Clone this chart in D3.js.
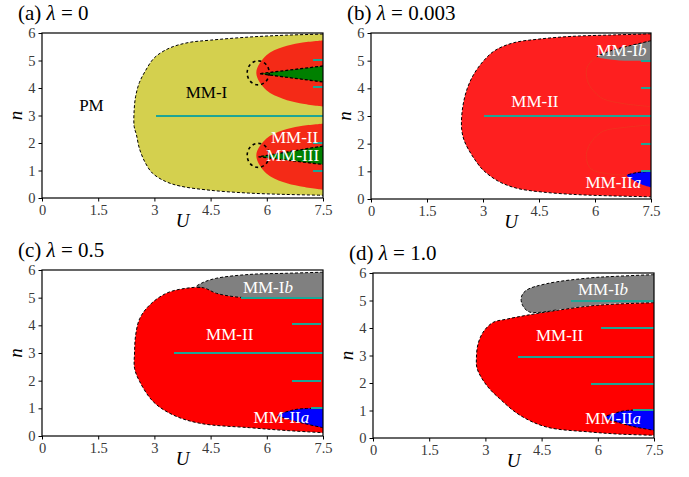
<!DOCTYPE html>
<html><head><meta charset="utf-8">
<script src="https://cdn.jsdelivr.net/npm/d3@7"></script>
<style>
body{margin:0;background:#fff;}
svg{display:block;}
svg text{font-family:"Liberation Serif","DejaVu Serif","Times New Roman",serif;}
</style></head>
<body><svg id="c" width="689" height="477"></svg>
<script>
// ---------- data ----------
const uTicks = [0, 1.5, 3, 4.5, 6, 7.5];
const nTicks = [0, 1, 2, 3, 4, 5, 6];
const panelLetters = ["(a)", "(b)", "(c)", "(d)"];
const lambdas = ["0", "0.003", "0.5", "1.0"];

// (a) lambda = 0
const aMMI = [[7.5,5.96],[6.5,5.92],[5.5,5.85],[4.5,5.74],[3.9,5.65],[3.4,5.45],[3.0,5.1],[2.75,4.6],[2.6,4.2],[2.5,3.7],[2.46,3.2],[2.46,2.6],[2.52,2.3],[2.6,1.8],[2.75,1.3],[2.95,0.9],[3.3,0.6],[3.7,0.43],[4.5,0.28],[5.5,0.18],[6.5,0.13],[7.5,0.1]];
const aRedUpper = [[7.5,5.73],[6.88,5.64],[6.43,5.49],[5.99,5.19],[5.72,4.55],[5.99,3.92],[6.43,3.61],[6.88,3.45],[7.5,3.33]];
const aRedLower = [[7.5,2.7],[6.88,2.61],[6.43,2.46],[5.99,2.16],[5.72,1.55],[5.99,0.89],[6.43,0.58],[6.88,0.43],[7.5,0.3]];
const aGreenUpper = [[7.5,4.8],[5.8,4.52],[7.5,4.22]];
const aGreenLower = [[7.5,1.89],[5.78,1.5],[7.5,1.22]];
const aCircles = [[5.77,4.55],[5.77,1.55]];
const aTeal = [[3.03,7.5,2.97],[7.23,7.5,5.02],[7.23,7.5,4.02],[7.23,7.5,2.0],[7.23,7.5,1.0]];
const aLabels = [["PM",1.32,3.37,"#000"],["MM-I",4.39,3.85,"#000"],["MM-II",6.74,2.22,"#fff"],["MM-III",6.69,1.55,"#fff"]];

// (b) lambda = 0.003
const bMMII = [[7.5,5.97],[6.5,5.93],[5.4,5.88],[4.5,5.78],[3.8,5.64],[3.3,5.35],[3.0,4.97],[2.75,4.5],[2.58,4.0],[2.48,3.5],[2.43,3.0],[2.43,2.5],[2.5,2.1],[2.65,1.7],[2.82,1.35],[3.0,1.05],[3.4,0.65],[3.9,0.39],[4.6,0.25],[5.5,0.16],[6.5,0.11],[7.5,0.08]];
const bGray = [[7.5,5.72],[6.9,5.53],[6.4,5.35],[6.05,5.15],[6.3,5.06],[6.8,5.0],[7.5,5.0]];
const bBlue = [[7.5,1.0],[7.1,0.95],[6.85,0.86],[6.95,0.75],[7.2,0.55],[7.5,0.42]];
const bContourUpper = [[6.06,5.16],[5.88,4.95],[5.77,4.67],[5.82,4.19],[6.0,3.85],[6.22,3.62],[6.75,3.45],[7.5,3.34]];
const bContourLower = [[7.5,2.68],[6.75,2.58],[6.22,2.45],[5.92,2.1],[5.78,1.7],[5.78,1.38],[5.9,1.08],[6.3,0.92],[6.85,0.86]];
const bTeal = [[3.04,7.5,3.0],[7.24,7.5,5.0],[7.24,7.5,4.01],[7.24,7.5,1.99],[7.24,7.5,1.0]];
const bLabels = [["MM-II",4.39,3.53,"#fff"],["MM-I|b",6.71,5.4,"#fff"],["MM-II|a",6.49,0.63,"#fff"]];

// (c) lambda = 0.5
const cMMII = [[7.5,4.97],[6.5,4.98],[5.6,4.99],[5.1,5.04],[4.65,5.16],[4.3,5.36],[3.85,5.34],[3.32,5.16],[2.87,4.73],[2.61,4.25],[2.5,3.65],[2.47,3.0],[2.47,2.45],[2.61,1.96],[2.97,1.24],[3.5,0.76],[4.21,0.46],[5.54,0.3],[6.5,0.2],[7.5,0.12]];
const cGray = [[7.5,5.92],[6.5,5.88],[5.54,5.84],[4.65,5.7],[4.3,5.55],[4.12,5.4],[4.3,5.36],[4.65,5.16],[5.1,5.04],[5.6,4.99],[6.5,4.98],[7.5,4.97]];
const cBlue = [[7.5,1.0],[7.0,0.99],[6.7,0.94],[6.3,0.74],[6.6,0.6],[7.0,0.45],[7.5,0.3]];
const cTeal = [[3.52,7.5,3.01],[5.32,7.5,4.98],[6.66,7.45,4.05],[6.68,7.45,2.0],[7.19,7.5,1.02]];
const cLabels = [["MM-I|b",6.03,5.4,"#fff"],["MM-II",5.01,3.68,"#fff"],["MM-II|a",6.39,0.7,"#fff"]];

// (d) lambda = 1.0
const dMMII = [[7.5,4.92],[6.5,4.87],[5.78,4.8],[4.9,4.64],[4.09,4.46],[3.56,4.32],[3.2,4.2],[2.94,3.85],[2.8,3.4],[2.76,2.89],[2.78,2.52],[3.03,1.92],[3.38,1.43],[3.92,0.83],[4.63,0.4],[5.78,0.22],[6.6,0.14],[7.5,0.1]];
const dGray = [[7.5,5.94],[6.5,5.88],[5.78,5.82],[4.63,5.61],[4.09,5.37],[3.96,5.13],[3.99,4.83],[4.18,4.58],[4.9,4.66],[5.78,4.82],[6.5,4.89],[7.5,4.93]];
const dBlue = [[7.5,1.0],[6.76,1.0],[6.5,0.92],[6.2,0.75],[6.67,0.52],[7.0,0.4],[7.5,0.28]];
const dTeal = [[3.87,7.5,2.93],[5.28,7.5,4.97],[6.08,7.5,4.0],[5.81,7.5,1.96],[6.94,7.5,1.02]];
const dLabels = [["MM-I|b",6.14,5.43,"#fff"],["MM-II",4.98,3.76,"#fff"],["MM-II|a",6.41,0.73,"#fff"]];

// ---------- layout / styles ----------
const frames = [
  {x:42, y:33, w:281, h:165},
  {x:371, y:33, w:280, h:166},
  {x:42, y:270, w:281, h:166},
  {x:373, y:273, w:281, h:165}
];
const YEL = "#d4d04e", REDA = "#f42a17", REDB = "#fe1f1f", RED = "#ff0000",
      GREEN = "#008000", GRAY = "#808080", BLUE = "#0000ff", TEAL = "#1ea595";
const SERIF = "'Liberation Serif','DejaVu Serif','Times New Roman',serif";

const svg = d3.select("#c");

function makePanel(i) {
  const f = frames[i];
  const g = svg.append("g").attr("transform", `translate(${f.x},${f.y})`);
  const x = d3.scaleLinear().domain([0, 7.5]).range([0, f.w]);
  const y = d3.scaleLinear().domain([0, 6]).range([f.h, 0]);
  const cid = "clip" + i;
  g.append("clipPath").attr("id", cid).append("rect").attr("width", f.w).attr("height", f.h);
  const body = g.append("g").attr("clip-path", `url(#${cid})`);
  const smooth = d3.line().x(d => x(d[0])).y(d => y(d[1])).curve(d3.curveCatmullRom.alpha(0.5));
  const lin = d3.line().x(d => x(d[0])).y(d => y(d[1]));
  return {g, body, x, y, f, smooth, lin};
}

function fillArea(p, pts, color, straight) {
  const gen = straight ? p.lin : p.smooth;
  p.body.append("path").attr("d", gen(pts) + "Z").attr("fill", color).attr("stroke", "none");
}
function dashed(p, pts, straight, w) {
  const gen = straight ? p.lin : p.smooth;
  p.body.append("path").attr("d", gen(pts)).attr("fill", "none")
    .attr("stroke", "#000").attr("stroke-width", w || 1).attr("stroke-dasharray", "3,2");
}
function tealLines(p, segs) {
  p.body.selectAll(null).data(segs).enter().append("line")
    .attr("x1", d => p.x(d[0])).attr("x2", d => p.x(d[1]))
    .attr("y1", d => Math.round(p.y(d[2]))).attr("y2", d => Math.round(p.y(d[2])))
    .attr("stroke", TEAL).attr("stroke-width", 2).attr("shape-rendering", "crispEdges");
}
function labels(p, arr) {
  arr.forEach(d => {
    const t = p.g.append("text").attr("x", p.x(d[1])).attr("y", p.y(d[2])).attr("dy", "0.35em")
      .attr("text-anchor", "middle").attr("font-size", 17).attr("fill", d[3])
      .style("font-family", SERIF);
    const parts = d[0].split("|");
    t.append("tspan").text(parts[0]);
    if (parts[1]) t.append("tspan").attr("font-style", "italic").text(parts[1]);
  });
}
function axes(p, i) {
  const xa = d3.axisBottom(p.x).tickValues(uTicks).tickSize(3.5).tickPadding(3).tickFormat(d => String(d));
  const ya = d3.axisLeft(p.y).tickValues(nTicks).tickSize(3.5).tickPadding(3).tickFormat(d => String(d));
  const gx = p.g.append("g").attr("transform", `translate(0,${p.f.h})`).call(xa);
  const gy = p.g.append("g").call(ya);
  [gx, gy].forEach(a => {
    a.attr("font-family", null);
    a.select(".domain").remove();
    a.selectAll("text").style("font-family", SERIF).attr("font-size", 14.5).attr("fill", "#3a3a3a");
    a.selectAll("line").attr("stroke", "#000");
  });
  p.g.append("rect").attr("width", p.f.w).attr("height", p.f.h)
    .attr("fill", "none").attr("stroke", "#000").attr("stroke-width", 1.2);
  p.g.append("text").attr("x", p.f.w / 2).attr("y", p.f.h + 29).attr("text-anchor", "middle")
    .style("font-family", SERIF).attr("font-size", 19).attr("font-style", "italic").text("U");
  p.g.append("text").attr("transform", `translate(-20,${p.f.h / 2}) rotate(-90)`)
    .style("font-family", SERIF).attr("text-anchor", "middle").attr("font-size", 19).attr("font-style", "italic").text("n");
  const t = p.g.append("text").attr("x", -24).attr("y", -13).attr("font-size", 21).style("font-family", SERIF);
  t.append("tspan").text(panelLetters[i] + " ");
  t.append("tspan").attr("font-style", "italic").text("λ");
  t.append("tspan").text(" = " + lambdas[i]);
}

// ---- panel (a)
{
  const p = makePanel(0);
  fillArea(p, aMMI, YEL);
  fillArea(p, aRedUpper, REDA);
  fillArea(p, aRedLower, REDA);
  fillArea(p, aGreenUpper, GREEN, true);
  fillArea(p, aGreenLower, GREEN, true);
  dashed(p, aMMI);
  dashed(p, aGreenUpper, true, 1.3);
  dashed(p, aGreenLower, true, 1.3);
  p.body.selectAll(null).data(aCircles).enter().append("ellipse")
    .attr("cx", d => p.x(d[0])).attr("cy", d => p.y(d[1])).attr("rx", 11).attr("ry", 12)
    .attr("fill", "none").attr("stroke", "#000").attr("stroke-width", 1.6).attr("stroke-dasharray", "3,3");
  tealLines(p, aTeal);
  labels(p, aLabels);
  axes(p, 0);
}
// ---- panel (b)
{
  const p = makePanel(1);
  fillArea(p, bMMII, REDB);
  fillArea(p, bGray, GRAY);
  fillArea(p, bBlue, BLUE);
  [bContourUpper, bContourLower].forEach(c => p.body.append("path").attr("d", p.smooth(c))
    .attr("fill", "none").attr("stroke", "#f2301e").attr("stroke-width", 1));
  dashed(p, bMMII);
  dashed(p, bGray.slice(0, 4));
  dashed(p, bBlue.slice(0, 3));
  tealLines(p, bTeal);
  labels(p, bLabels);
  axes(p, 1);
}
// ---- panel (c)
{
  const p = makePanel(2);
  fillArea(p, cGray, GRAY);
  fillArea(p, cMMII, RED);
  fillArea(p, cBlue, BLUE);
  dashed(p, cGray.slice(0, 7));
  dashed(p, cMMII);
  dashed(p, cBlue);
  tealLines(p, cTeal);
  labels(p, cLabels);
  axes(p, 2);
}
// ---- panel (d)
{
  const p = makePanel(3);
  fillArea(p, dGray, GRAY);
  fillArea(p, dMMII, RED);
  fillArea(p, dBlue, BLUE);
  dashed(p, dGray.slice(0, 9));
  dashed(p, dMMII);
  dashed(p, dBlue);
  tealLines(p, dTeal);
  labels(p, dLabels);
  axes(p, 3);
}
</script></body></html>
